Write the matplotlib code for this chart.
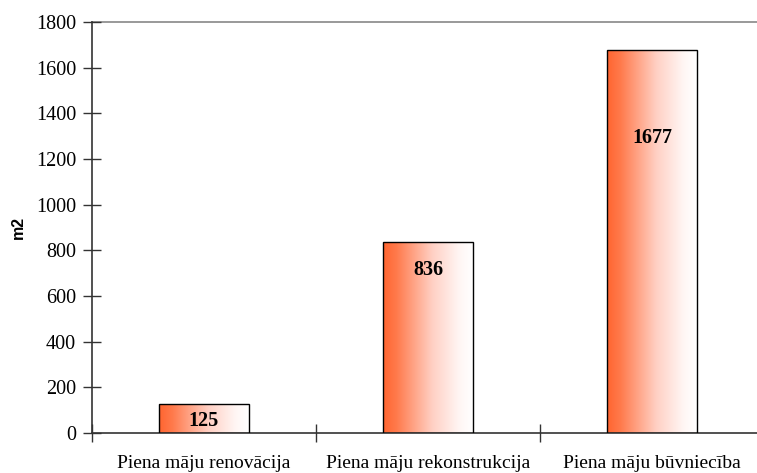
import matplotlib
matplotlib.use("Agg")
import matplotlib.pyplot as plt
import numpy as np
from matplotlib.colors import LinearSegmentedColormap
from matplotlib.patches import Rectangle

categories = ["Piena māju renovācija", "Piena māju rekonstrukcija", "Piena māju būvniecība"]
values = [125, 836, 1677]
y_ticks = [0, 200, 400, 600, 800, 1000, 1200, 1400, 1600, 1800]
y_label = "m2"

serif = ["Liberation Serif", "DejaVu Serif"]
sans = ["Liberation Sans", "DejaVu Sans"]

fig = plt.figure(figsize=(7.57, 4.73), dpi=100)
W, H = 757, 473
ax = fig.add_axes([92 / W, (H - 433) / H, (764 - 92) / W, (433 - 22) / H])

x = np.arange(len(categories))
bw = 0.40
cmap = LinearSegmentedColormap.from_list(
    "grad", [(0.0, "#ff6530"), (0.15, "#ff7a4c"), (0.55, "#ffd0c4"), (0.85, "#fff6f4"), (1.0, "#ffffff")])
grad = np.linspace(0, 1, 256).reshape(1, -1)

bars = ax.bar(x, values, width=bw, facecolor="none", edgecolor="black", linewidth=1.0, zorder=3)
for b in bars:
    x0, y0 = b.get_x(), b.get_y()
    w, h = b.get_width(), b.get_height()
    im = ax.imshow(grad, cmap=cmap, aspect="auto", extent=[x0, x0 + w, y0, y0 + h],
                   zorder=2, interpolation="bilinear")
    clip = Rectangle((x0, y0), w, h, transform=ax.transData)
    im.set_clip_path(clip)

# value labels (offsets below bar tops as in the reference)
label_drop = [73, 122, 385]
for xi, v, d in zip(x, values, label_drop):
    ax.text(xi, v - d, str(v), ha="center", va="center", fontsize=14.5,
            fontweight="bold", family=serif, zorder=4)

ax.set_xlim(-0.5, len(categories) - 0.5)
ax.set_ylim(0, 1800)
ax.set_yticks(y_ticks)
ax.set_yticklabels([str(t) for t in y_ticks], family=serif, fontsize=14.5)
ax.set_xticks(x)
ax.set_xticklabels(categories, family=serif, fontsize=14)
ax.tick_params(axis="x", length=0, pad=16)
ax.set_xticks(np.arange(len(categories) + 1) - 0.5, minor=True)
ax.tick_params(axis="x", which="minor", direction="inout", length=13, width=1, color="#333333")
ax.tick_params(axis="y", direction="inout", length=13, width=1, color="#333333", pad=5)

ax.axhline(1800, color="#888888", linewidth=1.2, zorder=1, clip_on=False)

for s in ["top", "right"]:
    ax.spines[s].set_visible(False)
for s in ["left", "bottom"]:
    ax.spines[s].set_color("#333333")
    ax.spines[s].set_linewidth(1.2)

ax.set_ylabel(y_label, family=sans, fontweight="bold", fontsize=11.5)
ax.yaxis.set_label_coords((26 - 92) / (764 - 92), 0.5)

fig.savefig("out.png", dpi=100)
